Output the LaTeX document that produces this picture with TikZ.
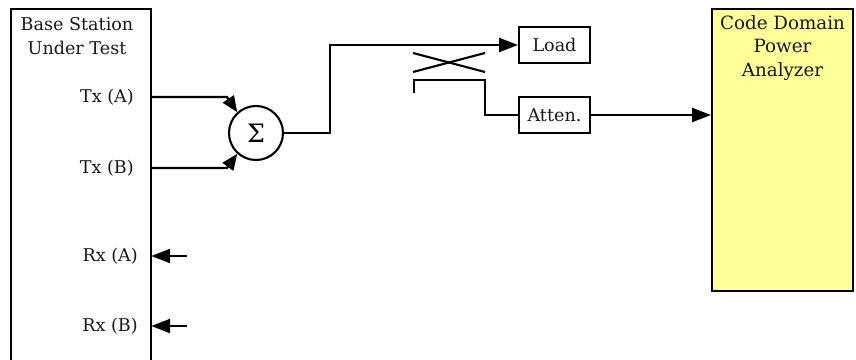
\documentclass[tikz,border=0pt]{standalone}
\usepackage{fontspec}
\setmainfont{DejaVu Serif}
\usepackage{xcolor}
\usetikzlibrary{arrows.meta, positioning}
\definecolor{analyzeryellow}{RGB}{255, 255, 153}
\definecolor{inkgray}{RGB}{25, 25, 25}

\begin{document}
\begin{tikzpicture}[
    x=0.025cm, y=-0.025cm,
    lbl/.style={font=\fontsize{12.5}{17}\selectfont, text=inkgray, align=center, inner sep=0pt},
    smallbox/.style={rectangle, draw, line width=1.5pt, fill=white, text=inkgray,
                     minimum width=1.775cm, minimum height=0.9cm, inner sep=0pt,
                     font=\fontsize{12.5}{17}\selectfont},
    sumnode/.style={circle, draw, line width=1.5pt, minimum size=1.35cm, inner sep=0pt,
                    font=\fontsize{18}{17}\selectfont},
    sig/.style={line width=1.5pt},
    bigarrow/.style={sig, -{Triangle[length=0.47cm, width=0.35cm]}},
    midarrow/.style={sig, -{Triangle[length=0.4cm, width=0.33cm]}}
]
\useasboundingbox (0,0) rectangle (856,360);

%% Base station, open at the bottom
\node[rectangle, minimum width=3.5cm, minimum height=8.8cm, inner sep=0pt] (bts) at (81,185) {};
\draw[sig] (bts.south west) |- (bts.north east) -- (bts.south east);
\node[lbl] (btstitle) at (77,36) {Base Station\\Under Test};
\node[lbl, anchor=east] (txa) at (134, 97) {Tx (A)};
\node[lbl, anchor=east] (txb) at (134,168) {Tx (B)};
\node[lbl, anchor=east] (rxa) at (138,256) {Rx (A)};
\node[lbl, anchor=east] (rxb) at (138,326) {Rx (B)};

%% Analyzer
\node[rectangle, draw, line width=1.5pt, fill=analyzeryellow,
      minimum width=3.525cm, minimum height=7.05cm, inner sep=0pt] (cdpa) at (782.5,150) {};
\node[lbl, font=\fontsize{13}{17}\selectfont] (cdpatitle) at (782.5,48) {Code Domain\\Power\\Analyzer};

%% Blocks
\node[sumnode] (sum) at (256,133) {Σ};
\node[smallbox] (load) at (554.5,45) {Load};
\node[smallbox] (atten) at (554.5,115) {Atten.};

%% Free ends
\coordinate (txabend) at (227,97);
\coordinate (txbbend) at (227,168);
\coordinate (sumup) at (330,133);
\coordinate (rxain) at (187,256);
\coordinate (rxbin) at (187,326);
\coordinate (cplstart) at (414,93);
\coordinate (cpltop) at (414,80);
\coordinate (cplright) at (485,80);
\coordinate (x1) at (413,53);
\coordinate (x2) at (485,72);
\coordinate (x3) at (413,72);
\coordinate (x4) at (485,53);

%% Transmit path
\draw[midarrow] (txabend -| bts.east) -- (txabend) -- (sum.132);
\draw[midarrow] (txbbend -| bts.east) -- (txbbend) -- (sum.228);
\draw[bigarrow] (sum.east) -- (sumup) |- (load.west);

%% Coupler
\draw[sig] (x1) -- (x2);
\draw[sig] (x3) -- (x4);
\draw[sig] (cplstart) -- (cpltop) -- (cplright) |- (atten.west);
\draw[bigarrow] (atten.east) -- (atten -| cdpa.west);

%% Receive ports
\draw[bigarrow] (rxain) -- (rxain -| bts.east);
\draw[bigarrow] (rxbin) -- (rxbin -| bts.east);

\end{tikzpicture}
\end{document}
